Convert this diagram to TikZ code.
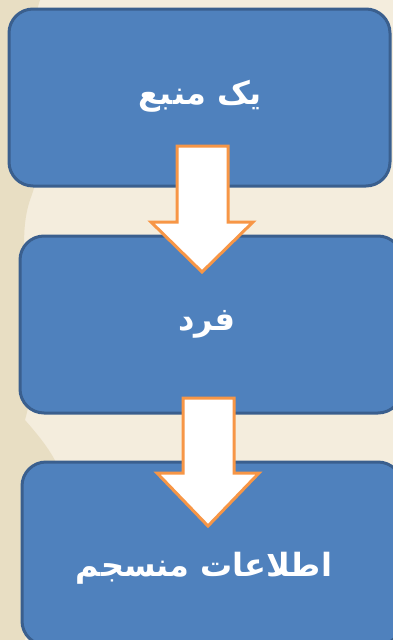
\documentclass[tikz,border=0pt]{standalone}
\usepackage{fontspec}
\newfontfamily\arabicfont[Script=Arabic]{DejaVu Sans}
\TeXXeTstate=1
\definecolor{bgc}{HTML}{F4EDDD}
\definecolor{orn}{HTML}{E6DBBD}
\definecolor{boxfill}{HTML}{4F81BD}
\definecolor{boxline}{HTML}{3A5F8E}
\definecolor{arrline}{HTML}{F79646}
\begin{document}
\begin{tikzpicture}[x=1pt,y=-1pt,
  stepbox/.style={draw=boxline,line width=3pt,fill=boxfill,rounded corners=24pt},
  lbl/.style={text=white,font=\arabicfont\bfseries\fontsize{32}{34}\selectfont},
  blockarrow/.style={draw=arrline,line width=3pt,fill=white,line join=miter}]
\useasboundingbox (0,0) rectangle (393,640);
\clip (0,0) rectangle (393,640);
\fill[bgc] (0,0) rectangle (393,640);
\fill[orn,opacity=0.8] (0,0) -- (40,0) .. controls (20,60) and (60,120) .. (30,200)
  .. controls (10,260) and (50,330) .. (25,420) .. controls (60,460) and (90,500) .. (30,560)
  .. controls (20,600) and (30,620) .. (25,640) -- (0,640) -- cycle;
\draw[stepbox] (9,9) rectangle (390,186);
\draw[stepbox] (20,236) rectangle (402,413);
\draw[stepbox] (22,462) rectangle (402,645);
\node[lbl] (t1) at (200,96) {\beginR یک منبع\endR};
\node[lbl] (t2) at (207,324) {\beginR فرد\endR};
\node[lbl] (t3) at (204,568) {\beginR اطلاعات منسجم\endR};
\draw[blockarrow] (177,146) -- (228,146) -- (228,222) -- (253,222) -- (202,272)
  -- (151,222) -- (177,222) -- cycle;
\draw[blockarrow] (183,398) -- (234,398) -- (234,473) -- (259,473) -- (208,526)
  -- (157,473) -- (183,473) -- cycle;
\end{tikzpicture}
\end{document}
